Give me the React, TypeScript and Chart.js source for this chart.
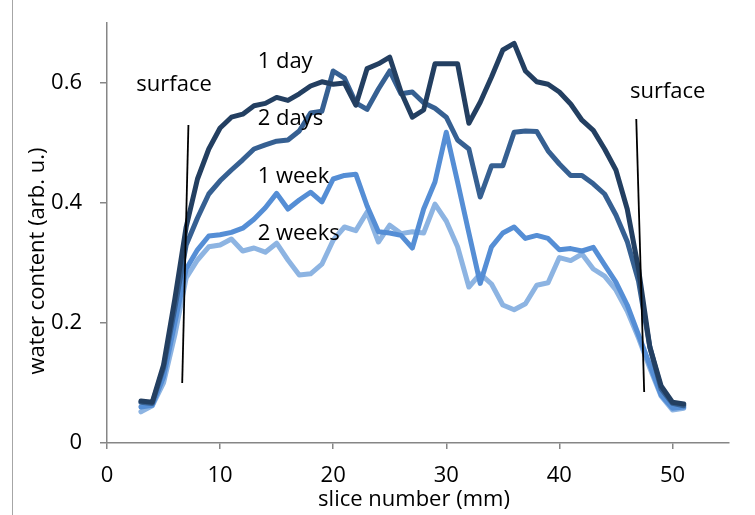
import React, { useEffect, useRef } from 'react';
import { Chart, registerables } from 'chart.js';

Chart.register(...registerables);

// slice positions (mm)
const slices = [3, 4, 5, 6, 7, 8, 9, 10, 11, 12, 13, 14, 15, 16, 17, 18, 19, 20, 21, 22, 23, 24, 25, 26, 27, 28, 29, 30, 31, 32, 33, 34, 35, 36, 37, 38, 39, 40, 41, 42, 43, 44, 45, 46, 47, 48, 49, 50, 51];

const oneDay = [0.07, 0.068, 0.13, 0.24, 0.36, 0.44, 0.49, 0.525, 0.543, 0.548, 0.562, 0.566, 0.576, 0.571, 0.582, 0.595, 0.602, 0.598, 0.6, 0.563, 0.624, 0.632, 0.643, 0.585, 0.543, 0.555, 0.632, 0.632, 0.632, 0.533, 0.568, 0.61, 0.655, 0.666, 0.62, 0.602, 0.598, 0.585, 0.565, 0.538, 0.521, 0.49, 0.455, 0.39, 0.29, 0.16, 0.095, 0.068, 0.065];

const twoDays = [0.068, 0.066, 0.125, 0.225, 0.33, 0.375, 0.415, 0.437, 0.455, 0.472, 0.49, 0.497, 0.503, 0.505, 0.52, 0.55, 0.553, 0.62, 0.608, 0.567, 0.556, 0.59, 0.62, 0.582, 0.585, 0.567, 0.558, 0.543, 0.505, 0.49, 0.41, 0.462, 0.462, 0.518, 0.52, 0.519, 0.487, 0.465, 0.446, 0.446, 0.432, 0.415, 0.38, 0.336, 0.27, 0.16, 0.09, 0.066, 0.062];

const oneWeek = [0.06, 0.063, 0.11, 0.2, 0.29, 0.322, 0.345, 0.347, 0.351, 0.358, 0.373, 0.392, 0.416, 0.39, 0.405, 0.418, 0.402, 0.44, 0.446, 0.448, 0.395, 0.352, 0.35, 0.346, 0.325, 0.39, 0.435, 0.518, 0.435, 0.35, 0.266, 0.327, 0.35, 0.36, 0.341, 0.346, 0.341, 0.322, 0.324, 0.32, 0.326, 0.297, 0.268, 0.23, 0.18, 0.13, 0.08, 0.058, 0.06];

const twoWeeks = [0.052, 0.062, 0.1, 0.18, 0.275, 0.305, 0.327, 0.33, 0.34, 0.32, 0.325, 0.318, 0.333, 0.305, 0.28, 0.282, 0.298, 0.338, 0.36, 0.354, 0.385, 0.335, 0.363, 0.349, 0.352, 0.35, 0.398, 0.37, 0.327, 0.26, 0.282, 0.265, 0.23, 0.222, 0.232, 0.263, 0.267, 0.309, 0.304, 0.315, 0.29, 0.278, 0.255, 0.22, 0.175, 0.125, 0.078, 0.055, 0.058];

const seriesNames = ['1 day', '2 days', '1 week', '2 weeks'];

// surface marker lines (data coordinates)
const surfaceLeftX = [7.2, 6.65];
const surfaceLeftY = [0.53, 0.1];
const surfaceRightX = [46.8, 47.5];
const surfaceRightY = [0.54, 0.085];

const xTickValues = [0, 10, 20, 30, 40, 50];
const yTickValues = [0, 0.2, 0.4, 0.6];
const yTickLabels = ['0', '0.2', '0.4', '0.6'];

const xTitle = 'slice number (mm)';
const yTitle = 'water content (arb. u.)';

// text annotations (left edge / baseline, data coordinates)
const annotationTexts = ['1 day', '2 days', '1 week', '2 weeks', 'surface', 'surface'];
const annotationX = [13.32, 13.32, 13.32, 13.32, 2.59, 46.24];
const annotationY = [0.625, 0.5295, 0.4333, 0.339, 0.586, 0.5757];

const FONT = '"Open Sans", sans-serif';

export default function App() {
  const ref = useRef<HTMLCanvasElement>(null);

  useEffect(() => {
    if (!ref.current) return;
    const pts = (xs: number[], ys: number[]) => xs.map((x, i) => ({ x, y: ys[i] }));

    const textPlugin = {
      id: 'textAnnotations',
      afterDraw(chart: any) {
        const ctx = chart.ctx;
        const xs = chart.scales.x;
        const ys = chart.scales.y;
        ctx.save();
        ctx.fillStyle = '#000';
        ctx.font = `22px ${FONT}`;
        ctx.textAlign = 'left';
        ctx.textBaseline = 'alphabetic';
        annotationTexts.forEach((t, i) => {
          ctx.fillText(t, xs.getPixelForValue(annotationX[i]), ys.getPixelForValue(annotationY[i]));
        });
        ctx.textAlign = 'center';
        ctx.fillText(xTitle, 414, 506);
        ctx.translate(44, 261);
        ctx.rotate(-Math.PI / 2);
        ctx.fillText(yTitle, 0, 0);
        ctx.restore();
      },
    };

    const lineDs = (label: string, data: any[], color: string) => ({
      label,
      data,
      borderColor: color,
      backgroundColor: color,
      borderWidth: 5,
      pointRadius: 0,
      tension: 0,
      borderJoinStyle: 'round' as const,
      borderCapStyle: 'round' as const,
      fill: false,
    });

    const chart = new Chart(ref.current, {
      type: 'line',
      data: {
        datasets: [
          lineDs(seriesNames[3], pts(slices, twoWeeks), '#8DB4E2'),
          lineDs(seriesNames[2], pts(slices, oneWeek), '#558ED5'),
          lineDs(seriesNames[1], pts(slices, twoDays), '#366092'),
          lineDs(seriesNames[0], pts(slices, oneDay), '#233F61'),
          {
            label: 'surface-left',
            data: pts(surfaceLeftX, surfaceLeftY),
            borderColor: '#000',
            borderWidth: 1.8,
            pointRadius: 0,
            fill: false,
          },
          {
            label: 'surface-right',
            data: pts(surfaceRightX, surfaceRightY),
            borderColor: '#000',
            borderWidth: 1.8,
            pointRadius: 0,
            fill: false,
          },
        ].map((d, i) => ({ ...d, order: 10 - i })),
      },
      options: {
        responsive: false,
        animation: false,
        devicePixelRatio: 1,
        layout: { padding: { left: 0, right: 26, top: 23, bottom: 0 } },
        plugins: {
          legend: { display: false },
          tooltip: { enabled: false },
          title: { display: false },
        },
        scales: {
          x: {
            type: 'linear',
            min: 0,
            max: 55,
            afterBuildTicks: (s: any) => {
              s.ticks = xTickValues.map((v) => ({ value: v }));
            },
            afterFit: (s: any) => {
              s.height = 72;
              s.paddingLeft = 0;
              s.paddingRight = 0;
            },
            grid: { drawOnChartArea: false, drawTicks: true, tickLength: 6, color: '#868686', lineWidth: 1.5 },
            border: { display: true, color: '#868686', width: 1.5 },
            ticks: {
              font: { family: FONT, size: 22 },
              color: '#000',
              padding: 14,
              maxRotation: 0,
              autoSkip: false,
            },
          },
          y: {
            type: 'linear',
            min: 0,
            max: 0.7,
            afterBuildTicks: (s: any) => {
              s.ticks = yTickValues.map((v) => ({ value: v }));
            },
            afterFit: (s: any) => {
              s.width = 107;
              s.paddingTop = 0;
              s.paddingBottom = 0;
            },
            grid: { drawOnChartArea: false, drawTicks: true, tickLength: 7, color: '#868686', lineWidth: 1.5 },
            border: { display: true, color: '#868686', width: 1.5 },
            ticks: {
              font: { family: FONT, size: 22 },
              color: '#000',
              padding: 18,
              autoSkip: false,
              callback: (_v: any, i: number) => yTickLabels[i],
            },
          },
        },
      },
      plugins: [textPlugin],
    });

    return () => chart.destroy();
  }, []);

  return (
    <div style={{ position: 'fixed', left: 0, top: 0, width: 755, height: 515, background: '#fff' }}>
      <div style={{ position: 'absolute', left: 12, top: 0, width: 1, height: 515, background: '#a6a6a6' }} />
      <canvas ref={ref} width={755} height={515} style={{ position: 'absolute', left: 0, top: 0 }} />
    </div>
  );
}
